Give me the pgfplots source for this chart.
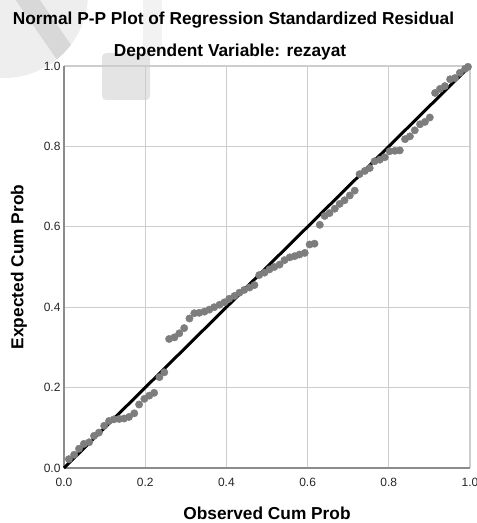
\documentclass[border=0pt]{standalone}
\usepackage{pgfplots}
\pgfplotsset{compat=1.18}
\usepackage{fontspec}
\setmainfont{Liberation Sans}
\definecolor{dotgray}{RGB}{125,125,125}
\definecolor{gridgray}{RGB}{205,205,205}
\definecolor{axgray}{RGB}{140,140,140}
\definecolor{wmA}{RGB}{238,238,238}
\definecolor{wmB}{RGB}{216,216,216}
\definecolor{wmC}{RGB}{228,228,228}
\begin{document}
\begin{tikzpicture}
\useasboundingbox (0,0) rectangle (477pt,523pt);
% faint watermark in the top-left corner
\begin{scope}
\clip (0,0) rectangle (477pt,523pt);
\fill[wmA] (4pt,529pt) circle (84pt);
\begin{scope}
\clip (4pt,529pt) circle (84pt);
\draw[wmB,line width=20pt] (16pt,540pt) -- (95pt,426pt);
\end{scope}
\fill[black!5] (143pt,470pt) rectangle (162pt,523pt);
\fill[wmC,rounded corners=4pt] (102pt,423pt) rectangle (150pt,470pt);
\end{scope}
\begin{axis}[at={(64pt,55pt)},anchor=south west,scale only axis,
width=406pt,height=402pt,xmin=0,xmax=1,ymin=0,ymax=1,
xtick={0,0.2,0.4,0.6,0.8,1},ytick={0,0.2,0.4,0.6,0.8,1},
axis lines*=left,axis line style={-,draw=axgray,line width=1.2pt},
grid=major,grid style={gridgray,line width=1.2pt},major tick length=0pt,
tick label style={font=\fontsize{12}{14}\selectfont,text=black!85},
xticklabel style={yshift=-7pt},
/pgf/number format/.cd,fixed,fixed zerofill,precision=1,assume math mode=true,
/pgfplots/.cd,clip=false]
\addplot[only marks,mark=*,mark size=3.7pt,dotgray,mark options={draw=none,fill=dotgray}] coordinates {
(0.012,0.022)(0.025,0.033)(0.037,0.048)(0.049,0.060)(0.062,0.064)(0.074,0.080)
(0.086,0.088)(0.099,0.105)(0.111,0.117)(0.123,0.121)(0.136,0.122)(0.148,0.123)
(0.160,0.127)(0.173,0.136)(0.185,0.158)(0.198,0.172)(0.210,0.180)(0.222,0.187)
(0.235,0.226)(0.247,0.238)(0.259,0.321)(0.272,0.325)(0.284,0.335)(0.296,0.348)
(0.309,0.372)(0.321,0.385)(0.333,0.386)(0.346,0.389)(0.358,0.394)(0.370,0.400)
(0.383,0.406)(0.395,0.412)(0.407,0.421)(0.420,0.428)(0.432,0.436)(0.444,0.443)
(0.457,0.449)(0.469,0.455)(0.481,0.480)(0.494,0.486)(0.506,0.494)(0.518,0.500)
(0.531,0.506)(0.543,0.517)(0.556,0.524)(0.568,0.527)(0.580,0.531)(0.593,0.535)
(0.605,0.556)(0.617,0.558)(0.630,0.605)(0.642,0.627)(0.654,0.634)(0.667,0.645)
(0.679,0.657)(0.691,0.666)(0.704,0.678)(0.716,0.690)(0.728,0.731)(0.741,0.739)
(0.753,0.746)(0.765,0.763)(0.778,0.767)(0.790,0.773)(0.802,0.788)(0.815,0.789)
(0.827,0.790)(0.840,0.818)(0.852,0.825)(0.864,0.840)(0.877,0.855)(0.889,0.861)
(0.901,0.872)(0.914,0.933)(0.926,0.943)(0.938,0.950)(0.951,0.967)(0.963,0.970)
(0.975,0.983)(0.988,0.993)(0.995,0.998)};
\addplot[black,line width=3pt] coordinates {(0,0)(1,1)};
\end{axis}
\node[anchor=base,font=\fontsize{17.3}{20}\selectfont\bfseries] at (233.5pt,498pt) {Normal P-P Plot of Regression Standardized Residual};
\node[anchor=base,font=\fontsize{17.3}{20}\selectfont\bfseries] at (230pt,466pt) {Dependent Variable: rezayat};
\node[anchor=base,font=\fontsize{17.3}{20}\selectfont\bfseries] at (267pt,4pt) {Observed Cum Prob};
\node[anchor=base,rotate=90,font=\fontsize{17.3}{20}\selectfont\bfseries] at (23.5pt,256pt) {Expected Cum Prob};
\end{tikzpicture}
\end{document}
